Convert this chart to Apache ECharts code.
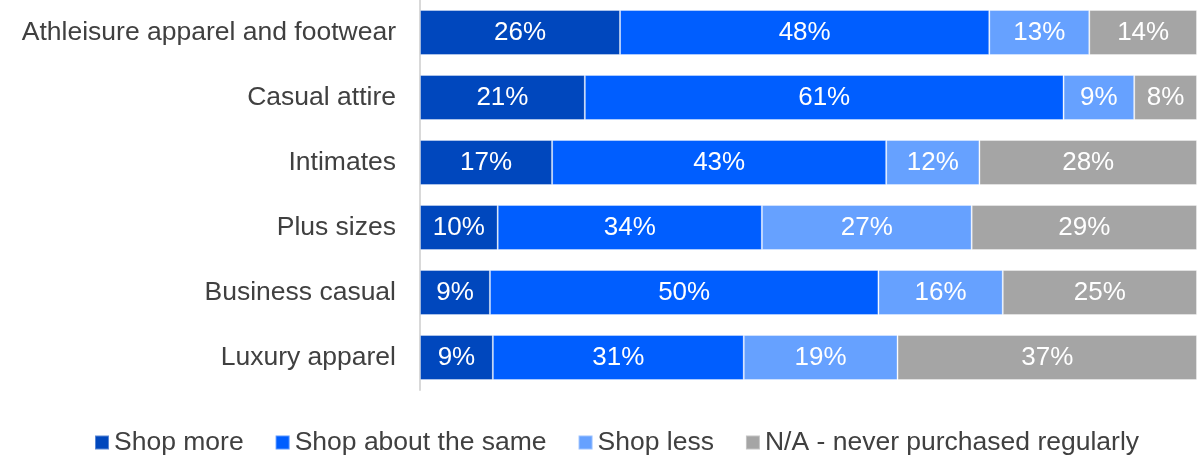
<!DOCTYPE html>
<html>
<head>
<meta charset="utf-8">
<script src="https://cdn.jsdelivr.net/npm/echarts@6/dist/echarts.min.js"></script>
<style>
  html, body { margin: 0; padding: 0; background: #ffffff; }
  #chart { width: 1203px; height: 455px; }
</style>
</head>
<body>
<div id="chart"></div>
<script>
// Categories, top to bottom
const categories = [
  'Athleisure apparel and footwear',
  'Casual attire',
  'Intimates',
  'Plus sizes',
  'Business casual',
  'Luxury apparel'
];
const seriesNames = ['Shop more', 'Shop about the same', 'Shop less', 'N/A - never purchased regularly'];

// Share of respondents (%) per answer
const shopMore = [26, 21, 17, 10, 9, 9];
const shopSame = [48, 61, 43, 34, 50, 31];
const shopLess = [13, 9, 12, 27, 16, 19];
const notApplicable = [14, 8, 28, 29, 25, 37];

const colors = ['#0047BD', '#005EFF', '#66A1FF', '#A5A5A5'];
const allValues = [shopMore, shopSame, shopLess, notApplicable];
const FONT = '"Liberation Sans", Arial, sans-serif';

// Each row is drawn as a 100% stacked bar: a segment's length is its value's share of the row total
const rowTotals = categories.map((_, i) => allValues.reduce((s, arr) => s + arr[i], 0));

const series = allValues.map((arr, k) => ({
  name: seriesNames[k],
  type: 'bar',
  stack: 'total',
  barWidth: 45,
  itemStyle: { color: colors[k], borderColor: 'rgba(255,255,255,0.35)', borderWidth: 1 },
  label: {
    show: true,
    position: 'inside',
    color: '#ffffff',
    fontSize: 26,
    fontFamily: FONT,
    formatter: p => arr[p.dataIndex] + '%'
  },
  data: arr.map((v, i) => ({ value: v / rowTotals[i] * 100 }))
}));

const chart = echarts.init(document.getElementById('chart'), null, { renderer: 'canvas' });
chart.setOption({
  animation: false,
  backgroundColor: '#ffffff',
  grid: { left: 420, right: 6, top: 0, height: 390, containLabel: false },
  legend: {
    data: seriesNames,
    top: 424,
    left: 89,
    icon: 'rect',
    itemWidth: 14,
    itemHeight: 14,
    itemGap: 31,
    textStyle: { fontSize: 26.5, color: '#404040', fontFamily: FONT }
  },
  xAxis: {
    type: 'value',
    min: 0,
    max: 100,
    show: false
  },
  yAxis: {
    type: 'category',
    data: categories,
    inverse: true,
    axisLine: { show: true, lineStyle: { color: '#d9d9d9', width: 2 } },
    axisTick: { show: false },
    axisLabel: {
      fontSize: 26.5,
      color: '#404040',
      margin: 24,
      fontFamily: FONT
    }
  },
  series: series
});
</script>
</body>
</html>
